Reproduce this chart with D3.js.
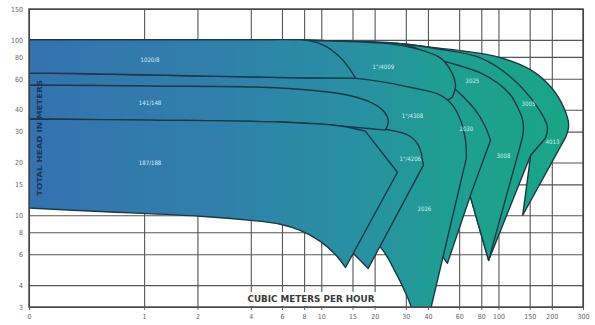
<!DOCTYPE html>
<html><head><meta charset="utf-8">
<script src="https://cdn.jsdelivr.net/npm/d3@7"></script>
<style>html,body{margin:0;padding:0;background:#fff;}svg{display:block;}</style>
</head><body>
<svg id="chart" width="595" height="325"></svg>
<script>
// ---------- axes ----------
const xTickValues = [0.224,1,2,4,6,8,10,15,20,30,40,60,80,100,150,200,300];
const xTickLabels = ["0","1","2","4","6","8","10","15","20","30","40","60","80","100","150","200","300"];
const yTickValues = [3,4,6,8,10,15,20,30,40,60,80,100,150];
const yTickLabels = ["3","4","6","8","10","15","20","30","40","60","80","100","150"];
const xTitle = "CUBIC METERS PER HOUR";
const yTitle = "TOTAL HEAD IN METERS";

// ---------- pump regions: [flow m3/h, head m] ----------
const envelope = [[0.224,100],[1,100],[4,100],[11,98.7],[28,95],[45,90],[63,86.5],[99,80],[152,67.4],[197,54],[233,41.4],[249,32.7],[240,28]];
const hiddenTail = [[57,14.8],[28,12.2],[11.2,13.9],[0.224,18.1]];

const p4013Top = envelope;
const p4013Edge = [[240,28],[137,10],[152,22],[96,16.9]];

const p3005Top = [[0.224,100],[1,100],[4,100],[11,98.7],[28,95],[45,89],[79,79],[117,61.5],[166,41.4],[189,31.8],[184,27.5]];
const p3005Edge = [[184,27.5],[152,22],[88,5.53],[69.5,12.7]];

const p3008Top = [[0.224,100],[1,100],[4,100],[11,98.7],[28,95],[34,90],[47,76.9],[63.4,70.2],[79,64.8],[99,56.8],[117,48.5],[128,41.4],[137,34.9],[138,29.8],[133,25.1]];
const p3008Edge = [[133,25.1],[88,5.53],[69.5,12.7]];

const p2030Top = [[0.224,100],[1,100],[4,100],[11,98.7],[27.9,87.7],[41.3,69.2],[51.5,57.5],[63.4,47.2],[74.1,39.8],[83.4,32.7],[90.2,26.8]];
const p2030Edge = [[90.2,26.8],[69.5,13.0],[51.5,5.32],[45.8,6.31],[27.9,12.2],[11.2,13.9],[0.224,18.1]];

const p4009Top = [[0.224,100],[1,100],[4,100],[11,98.7],[24.5,94.9],[36.3,87.7],[47,79],[53.5,67.4],[57.2,55.3],[55,47.2]];
const p4009Edge = [[55,47.2],[47,42.5],[0.224,39.8]];

const p2026Top = [[0.224,64.8],[0.564,63.9],[2.07,62.3],[7.6,60.7],[15.6,60.3],[33.1,53.2],[47,48.5],[55,42.5],[61,34.9],[65.1,26.8],[65.9,21.2]];
const p2026Edge = [[65.9,21.2],[40,2.51],[32.7,2.51]];
const p2026Bowl = [[32.7,2.51],[32.2,2.98],[29.1,3.83],[25.9,4.85],[22.7,6.15],[19.4,7.39]];
const p2026Tail = [[19.4,7.39],[11.2,13.9],[0.224,18.1]];

const p4206Top = [[0.224,35.4],[5.87,34.0],[16.6,31.8],[24.5,30.6],[31,28.6],[35.3,25.1],[37.7,19.3]];
const p4206Edge = [[37.7,19.3],[18.4,4.98],[14.6,6.31],[7.6,12.2],[0.224,23.5]];

const p1020Top = [[0.224,100],[1.08,100],[4,100],[8.67,98.7],[10.5,92.4],[12.5,81.1],[14.2,70.2],[15.6,60.5]];
const p1020Bottom = [[15.6,60.5],[7.6,60.7],[2.07,62.3],[0.564,63.9],[0.224,64.8]];

const p141Top = [[0.224,55.3],[1.08,54.6],[5.87,53.2],[14,48.5],[19.4,43.6],[22.7,38.8],[23.9,34.4],[23,30.6]];
const p141Bottom = [[23,30.6],[12.8,32.3],[5.87,34.0],[1.08,34.9],[0.224,35.4]];

const p187Top = [[0.224,35.4],[1.08,34.9],[5.87,34.0],[12.8,32.3],[17.7,30.2]];
const p187Edge = [[17.7,30.2],[26.9,17.6],[13.7,5.04]];
const p187Bottom = [[13.7,5.04],[12,5.98],[9.87,7.10],[7.6,8.2],[5.87,8.89],[3.97,9.36],[2.07,9.87],[0.564,10.5],[0.224,11.0]];

// model labels
const labelNames = ["1020/8","141/148","187/188","1\"/4009","1\"/4308","1\"/4206","2026","2025","2030","3005","3008","4013"];
const labelFlow  = [1.08,1.08,1.08,22.4,32.7,31.8,38.2,71.3,65.9,147.7,106.7,201.8];
const labelHead  = [76.9,44.2,20.1,70.2,37.3,21.2,11.0,59.0,31.4,43.1,22.0,26.5];

// ---------- drawing ----------
const svg = d3.select("#chart");
const L = 29, R = 583, T = 9, B = 307;
const x = d3.scaleLog().domain([0.224,300]).range([L,R]);
const y = d3.scaleLog().domain([3,150]).range([B,T]);
const FONT = "'Liberation Sans Narrow','DejaVu Sans Condensed','Arial Narrow',sans-serif";

const defs = svg.append("defs");
const grad = defs.append("linearGradient").attr("id","fillGrad")
  .attr("gradientUnits","userSpaceOnUse").attr("x1",L).attr("x2",R).attr("y1",0).attr("y2",0);
[[0,"#3572b0"],[0.35,"#3080aa"],[0.6,"#2891a2"],[0.75,"#1f9e92"],[1,"#19a684"]]
  .forEach(s=>grad.append("stop").attr("offset",s[0]).attr("stop-color",s[1]));
defs.append("clipPath").attr("id","plotClip").append("rect")
  .attr("x",L).attr("y",T).attr("width",R-L).attr("height",B-T);

// grid
const gridColor = "#555";
svg.append("g").attr("transform",`translate(0,${B})`)
  .call(d3.axisBottom(x).tickValues(xTickValues).tickSize(-(B-T)).tickFormat(""))
  .call(g=>g.select(".domain").remove())
  .call(g=>g.selectAll("line").attr("stroke",gridColor).attr("stroke-width",1.1));
svg.append("g").attr("transform",`translate(${L},0)`)
  .call(d3.axisLeft(y).tickValues(yTickValues).tickSize(-(R-L)).tickFormat(""))
  .call(g=>g.select(".domain").remove())
  .call(g=>g.selectAll("line").attr("stroke",gridColor).attr("stroke-width",1.1));

// shapes
function shapePath(segs){
  let d = "";
  segs.forEach((s,i)=>{
    const gen = d3.line().x(p=>x(p[0])).y(p=>y(p[1]))
      .curve(s.smooth ? d3.curveCatmullRom.alpha(0.5) : d3.curveLinear);
    let part = gen(s.pts);
    if(i>0) part = "L" + part.slice(1);
    d += part;
  });
  return d + "Z";
}
const S = (pts)=>({pts,smooth:true});
const Lin = (pts)=>({pts,smooth:false});
const shapes = [
  [S(p4013Top), Lin(p4013Edge.concat(hiddenTail))],
  [S(p3005Top), Lin(p3005Edge.concat(hiddenTail))],
  [S(p3008Top), Lin(p3008Edge.concat(hiddenTail))],
  [S(p2030Top), Lin(p2030Edge)],
  [S(p4009Top), Lin(p4009Edge)],
  [S(p2026Top), Lin(p2026Edge), S(p2026Bowl), Lin(p2026Tail)],
  [S(p4206Top), Lin(p4206Edge)],
  [S(p1020Top), S(p1020Bottom)],
  [S(p141Top), S(p141Bottom)],
  [S(p187Top), Lin(p187Edge), S(p187Bottom)]
];
const sg = svg.append("g").attr("clip-path","url(#plotClip)");
sg.selectAll("path").data(shapes).join("path")
  .attr("d",shapePath)
  .attr("fill","url(#fillGrad)")
  .attr("stroke","#1b3947").attr("stroke-width",1.4).attr("stroke-linejoin","round");

// labels
svg.append("g").selectAll("text").data(labelNames).join("text")
  .attr("x",(d,i)=>x(labelFlow[i])).attr("y",(d,i)=>y(labelHead[i]))
  .attr("text-anchor","middle").attr("dominant-baseline","central")
  .attr("font-family",FONT).attr("font-size",6).attr("fill","#d6eef4")
  .text(d=>d);

// frame
svg.append("rect").attr("x",L).attr("y",T).attr("width",R-L).attr("height",B-T)
  .attr("fill","none").attr("stroke","#444").attr("stroke-width",1.4);

// x axis ticks + labels
svg.append("g").attr("transform",`translate(0,${B})`)
  .call(d3.axisBottom(x).tickValues(xTickValues).tickSize(3).tickPadding(4).tickFormat((d,i)=>xTickLabels[i]))
  .call(g=>g.select(".domain").remove())
  .call(g=>g.selectAll("line").attr("stroke","#666"))
  .call(g=>g.selectAll("text").attr("font-family",FONT).attr("font-size",7).attr("fill","#666"));
// y axis labels
svg.append("g").attr("transform",`translate(${L},0)`)
  .call(d3.axisLeft(y).tickValues(yTickValues).tickSize(0).tickPadding(6).tickFormat((d,i)=>yTickLabels[i]))
  .call(g=>g.select(".domain").remove())
  .call(g=>g.selectAll("text").attr("font-family",FONT).attr("font-size",7).attr("fill","#666"));

// x title with white backing
const xt = {cx:311, cy:299};
svg.append("rect").attr("x",xt.cx-66).attr("y",xt.cy-7).attr("width",132).attr("height",14).attr("fill","#fff");
svg.append("text").attr("x",xt.cx).attr("y",xt.cy).attr("text-anchor","middle").attr("dominant-baseline","central")
  .attr("font-family",FONT).attr("font-weight","bold").attr("font-size",8.5).attr("fill","#3a3a3a")
  .attr("textLength",127).attr("lengthAdjust","spacingAndGlyphs").text(xTitle);
// y title
svg.append("text").attr("transform","translate(40,138) rotate(-90)")
  .attr("text-anchor","middle").attr("dominant-baseline","central")
  .attr("font-family",FONT).attr("font-weight","bold").attr("font-size",7).attr("fill","#1d3656")
  .attr("textLength",116).attr("lengthAdjust","spacingAndGlyphs").text(yTitle);
</script>
</body></html>
